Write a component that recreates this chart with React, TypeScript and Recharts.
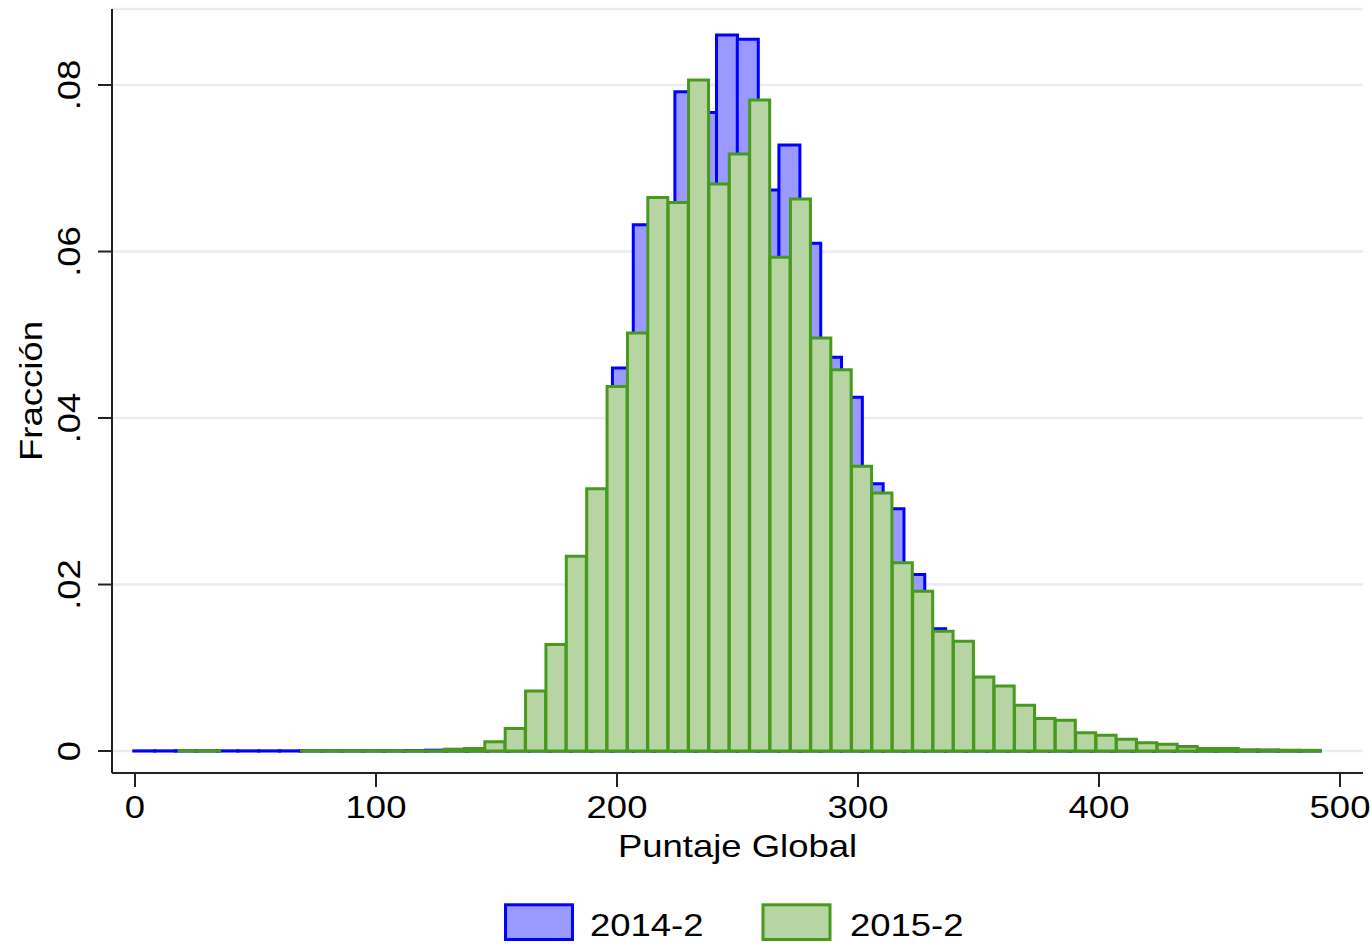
import React from 'react';
import { BarChart, Bar, XAxis, YAxis, CartesianGrid } from 'recharts';

// Histogram bin centres (Puntaje Global) and bar heights (fraction)
const blueCenters = [
  3.82, 12.45, 21.09, 29.72, 38.36, 46.99, 55.63, 64.26, 72.9, 81.53,
  90.17, 98.8, 107.44, 116.07, 124.71, 133.34, 141.98, 150.61, 159.25, 167.88,
  176.52, 185.15, 193.79, 202.42, 211.06, 219.69, 228.33, 236.96, 245.6, 254.23,
  262.87, 271.5, 280.14, 288.77, 297.41, 306.04, 314.68, 323.31, 331.95, 340.58,
  349.22, 357.85, 366.49, 375.12, 383.76, 392.39, 401.03, 409.66, 418.3, 426.93,
  435.57, 444.2, 452.84, 461.47, 470.11, 478.74, 487.38,
];
const blueValues = [
  0.00002, 0.00002, 0.00002, 0.00002, 0.00002, 0.00002, 0.00002, 0.00002, 0.00002, 0.00002,
  0.00002, 0.00002, 0.00002, 0.00005, 0.0001, 0.0002, 0.0003, 0.0009, 0.0026, 0.0068,
  0.0122, 0.0225, 0.031, 0.046, 0.0632, 0.065, 0.0792, 0.0767, 0.086, 0.0855,
  0.0674, 0.0728, 0.061, 0.0473, 0.0425, 0.0321, 0.0291, 0.0212, 0.0147, 0.0128,
  0.0087, 0.0075, 0.0052, 0.0036, 0.003, 0.002, 0.0016, 0.0012, 0.0009, 0.0007,
  0.0005, 0.0003, 0.0002, 0.0001, 0.0001, 0.00005, 0.00003,
];
const greenCenters = [
  14.11, 22.57, 31.02, 39.48, 47.93, 56.38, 64.84, 73.29, 81.75, 90.2,
  98.65, 107.11, 115.56, 124.02, 132.47, 140.92, 149.38, 157.83, 166.29, 174.74,
  183.19, 191.65, 200.1, 208.56, 217.01, 225.46, 233.92, 242.37, 250.83, 259.28,
  267.73, 276.19, 284.64, 293.1, 301.55, 310.0, 318.46, 326.91, 335.37, 343.82,
  352.27, 360.73, 369.18, 377.64, 386.09, 394.54, 403.0, 411.45, 419.91, 428.36,
  436.81, 445.27, 453.72, 462.18, 470.63, 479.08, 487.54,
];
const greenValues = [
  0, 0.00002, 0.00002, 0, 0, 0, 0, 0.00002, 0.00002, 0.00002,
  0.00002, 0.00002, 0.00002, 0.00002, 0.0002, 0.0003, 0.0011, 0.0027, 0.0072, 0.0128,
  0.0234, 0.0315, 0.0438, 0.0502, 0.0665, 0.0659, 0.0806, 0.0681, 0.0717, 0.0782,
  0.0593, 0.0663, 0.0496, 0.0458, 0.0342, 0.031, 0.0226, 0.0192, 0.0144, 0.0132,
  0.0089, 0.0078, 0.0055, 0.0039, 0.0037, 0.0022, 0.0019, 0.0014, 0.001, 0.0008,
  0.0005, 0.0003, 0.0003, 0.00012, 0.0001, 0.0001, 0.00008,
];
const xTicks = [0, 100, 200, 300, 400, 500];
const yTicks = [0, 0.02, 0.04, 0.06, 0.08];
const seriesNames = ['2014-2', '2015-2'];
const xTitle = 'Puntaje Global';
const yTitle = 'Fracción';

const data = blueCenters.map((xb, i) => ({
  xb,
  blue: blueValues[i],
  xg: greenCenters[i],
  green: greenValues[i],
}));

const FONT = '"Liberation Sans", Arial, sans-serif';
const FS = 32;
const SX = 1.14;
const BLUE_FILL = '#9999ff';
const BLUE_STROKE = '#0000ff';
const GREEN_FILL = '#b6d5a2';
const GREEN_STROKE = '#479a1c';
const AXIS = '#222222';

const fmtY = (v: number) => (v === 0 ? '0' : v.toFixed(2).replace(/^0/, ''));

const XTick = (props: any) => {
  const { x, y, payload } = props;
  return (
    <g transform={`translate(${x},${y})`}>
      <text x={0} y={31} transform={`scale(${SX},1)`} textAnchor="middle" fontSize={FS} fontFamily={FONT} fill="#000">
        {payload.value}
      </text>
    </g>
  );
};

const YTick = (props: any) => {
  const { x, y, payload } = props;
  return (
    <g transform={`translate(${x},${y}) rotate(-90) scale(${SX},1)`}>
      <text x={0} y={0} textAnchor="middle" fontSize={FS} fontFamily={FONT} fill="#000">
        {fmtY(payload.value)}
      </text>
    </g>
  );
};

const XLabel = (props: any) => {
  const vb = props.viewBox || { x: 112, y: 773, width: 1251, height: 100 };
  return (
    <g transform={`translate(${vb.x + vb.width / 2},${vb.y + 84}) scale(${SX},1)`}>
      <text x={0} y={0} textAnchor="middle" fontSize={FS} fontFamily={FONT} fill="#000">
        {xTitle}
      </text>
    </g>
  );
};

const YLabel = (props: any) => {
  const vb = props.viewBox || { x: 0, y: 9, width: 112, height: 764 };
  return (
    <g transform={`translate(${vb.x + 42},${vb.y + vb.height / 2}) rotate(-90) scale(${SX},1)`}>
      <text x={0} y={0} textAnchor="middle" fontSize={FS} fontFamily={FONT} fill="#000">
        {yTitle}
      </text>
    </g>
  );
};

const legendItems = [
  { name: seriesNames[0], fill: BLUE_FILL, stroke: BLUE_STROKE, x: 505.5, tx: 590 },
  { name: seriesNames[1], fill: GREEN_FILL, stroke: GREEN_STROKE, x: 763, tx: 850 },
];

export default function App() {
  return (
    <div style={{ position: 'absolute', left: 0, top: 0, width: 1372, height: 947, background: '#fff' }}>
      <BarChart
        width={1372}
        height={947}
        data={data}
        margin={{ top: 9, right: 9, bottom: 74, left: 0 }}
        barCategoryGap={0}
        barGap={0}
      >
        <CartesianGrid xAxisId="b" vertical={false} horizontal stroke="#e6eef1" strokeWidth={2.5} />
        <XAxis
          xAxisId="b"
          dataKey="xb"
          type="number"
          domain={[-9.54, 509.54]}
          allowDataOverflow
          ticks={xTicks}
          interval={0}
          height={100}
          tickSize={14}
          tickMargin={0}
          axisLine={{ stroke: AXIS, strokeWidth: 2 }}
          tickLine={{ stroke: AXIS, strokeWidth: 2 }}
          tick={<XTick />}
          label={<XLabel />}
        />
        <XAxis xAxisId="g" dataKey="xg" type="number" domain={[-9.54, 509.54]} allowDataOverflow hide />
        <YAxis
          type="number"
          domain={[-0.00264, 0.08913]}
          allowDataOverflow
          ticks={yTicks}
          interval={0}
          width={112}
          tickSize={14}
          tickMargin={18}
          axisLine={{ stroke: AXIS, strokeWidth: 2 }}
          tickLine={{ stroke: AXIS, strokeWidth: 2 }}
          tick={<YTick />}
          label={<YLabel />}
        />
        <Bar
          xAxisId="b"
          dataKey="blue"
          name={seriesNames[0]}
          fill={BLUE_FILL}
          stroke={BLUE_STROKE}
          strokeWidth={3}
          isAnimationActive={false}
        />
        <Bar
          xAxisId="g"
          dataKey="green"
          name={seriesNames[1]}
          fill={GREEN_FILL}
          stroke={GREEN_STROKE}
          strokeWidth={3}
          isAnimationActive={false}
        />
      </BarChart>
      <svg width={1372} height={80} style={{ position: 'absolute', left: 0, top: 870 }}>
        {legendItems.map((it) => (
          <g key={it.name}>
            <rect x={it.x} y={34.8} width={67} height={34.7} fill={it.fill} stroke={it.stroke} strokeWidth={3} />
            <g transform={`translate(${it.tx},66) scale(${SX},1)`}>
              <text x={0} y={0} fontSize={FS} fontFamily={FONT} fill="#000">
                {it.name}
              </text>
            </g>
          </g>
        ))}
      </svg>
    </div>
  );
}
